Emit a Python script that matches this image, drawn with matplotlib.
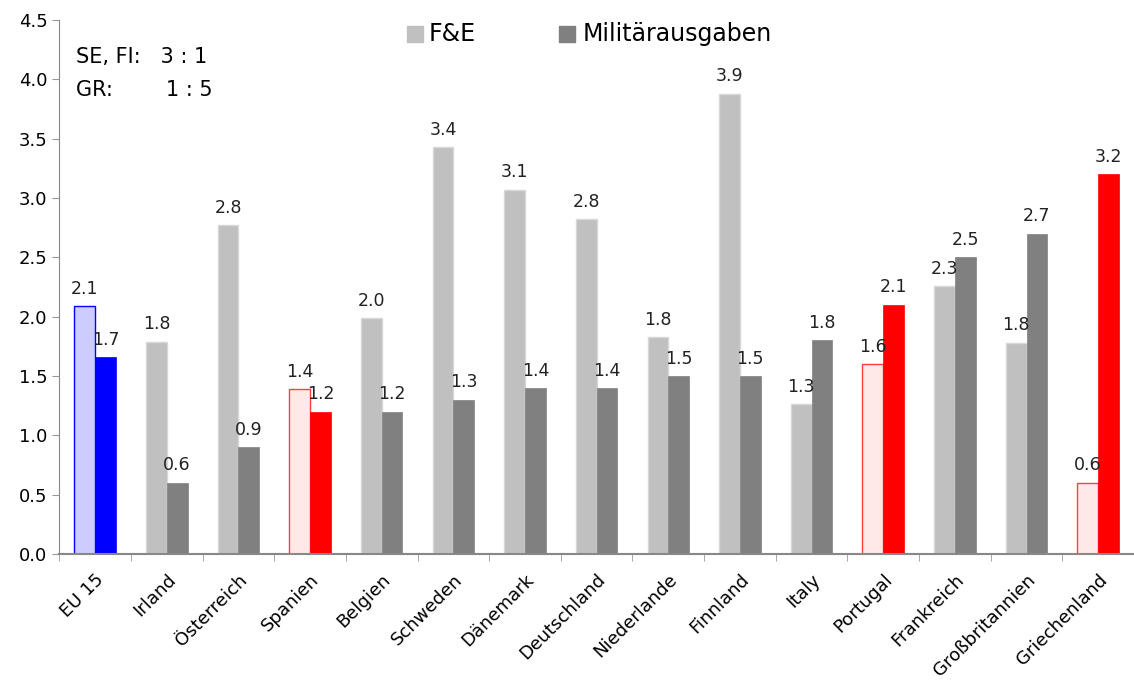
import matplotlib.pyplot as plt
import numpy as np

countries = ["EU 15", "Irland", "Österreich", "Spanien", "Belgien", "Schweden",
             "Dänemark", "Deutschland", "Niederlande", "Finnland", "Italy",
             "Portugal", "Frankreich", "Großbritannien", "Griechenland"]
fue = [2.09, 1.79, 2.77, 1.39, 1.99, 3.43, 3.07, 2.82, 1.83, 3.88, 1.26, 1.60, 2.26, 1.78, 0.60]
militaer = [1.66, 0.60, 0.90, 1.20, 1.20, 1.30, 1.40, 1.40, 1.50, 1.50, 1.80, 2.10, 2.50, 2.70, 3.20]
highlight_blue = ["EU 15"]
highlight_red = ["Spanien", "Portugal", "Griechenland"]

plt.rcParams['font.family'] = ['DejaVu Sans']

fig = plt.figure(figsize=(11.34, 6.82), dpi=100)
# axes: left spine at x~59px, 0 at y~554, 4.5 at y~20; right side runs off the picture
ax = fig.add_axes([59.3 / 1134, (682 - 554) / 682, (1134 - 59.3) / 1134, (554 - 20) / 682])

x = np.arange(len(countries))
w = 0.29

for i, c in enumerate(countries):
    if c in highlight_blue:
        c1, e1, c2 = "#ccccff", "#0000ff", "#0000ff"
    elif c in highlight_red:
        c1, e1, c2 = "#ffe8e8", "#ff4040", "#ff0000"
    else:
        c1, e1, c2 = "#c0c0c0", "#d8d8d8", "#808080"
    ax.bar(x[i] - w / 2, fue[i], w, color=c1, edgecolor=e1, linewidth=1, zorder=2)
    ax.bar(x[i] + w / 2, militaer[i], w, color=c2, edgecolor=c2, linewidth=0.5, zorder=2)
    ax.text(x[i] - w / 2, fue[i] + 0.07, f"{fue[i]:.1f}", ha="center", va="bottom", fontsize=12.5, color="#222222")
    ax.text(x[i] + w / 2, militaer[i] + 0.07, f"{militaer[i]:.1f}", ha="center", va="bottom", fontsize=12.5, color="#222222")

ax.set_ylim(0, 4.5)
ax.set_xlim(-0.5, -0.5 + (1134 - 59.3) / 72.3)
ax.set_yticks(np.arange(0, 4.51, 0.5))
ax.set_yticklabels([f"{v:.1f}" for v in np.arange(0, 4.51, 0.5)], fontsize=13)
ax.set_xticks(x)
ax.set_xticklabels(countries, rotation=45, ha="right", rotation_mode="anchor", fontsize=13)
ax.set_xticks(np.arange(-0.5, len(countries), 1.0), minor=True)
ax.tick_params(axis="x", which="major", length=0, pad=12)
ax.tick_params(axis="x", which="minor", length=5, color="#999999", direction="out")
ax.tick_params(axis="y", length=5, color="#999999", direction="out")

for s in ["top", "right"]:
    ax.spines[s].set_visible(False)
ax.spines["left"].set_color("#888888")
ax.spines["bottom"].set_color("#888888")
ax.spines["bottom"].set_linewidth(1.5)

# legend squares and text
ax.scatter([4.46], [4.38], marker="s", s=120, color="#c0c0c0", zorder=3, clip_on=False)
ax.text(4.65, 4.38, "F&E", fontsize=17, va="center", ha="left")
ax.scatter([6.58], [4.38], marker="s", s=120, color="#808080", zorder=3, clip_on=False)
ax.text(6.80, 4.38, "Militärausgaben", fontsize=17, va="center", ha="left")

ax.text(-0.27, 4.19, "SE, FI:   3 : 1", fontsize=15, va="center", ha="left")
ax.text(-0.27, 3.91, "GR:        1 : 5", fontsize=15, va="center", ha="left")

fig.savefig("out.png", dpi=100)
